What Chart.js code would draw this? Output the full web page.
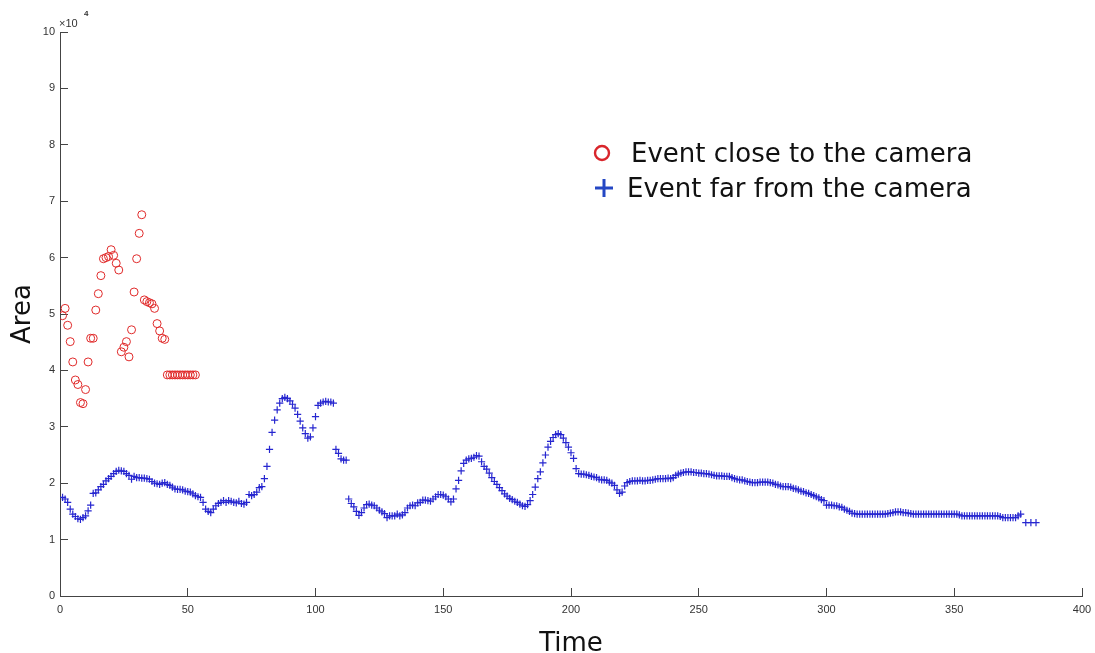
<!DOCTYPE html>
<html>
<head>
<meta charset="utf-8">
<script src="https://cdn.jsdelivr.net/npm/chart.js@4/dist/chart.umd.min.js"></script>
<style>
    html, body { margin: 0; padding: 0; background: #fff; }
    #wrap { width: 1095px; height: 653px; }
</style>
</head>
<body>
<div id="wrap"><canvas id="chart"></canvas></div>
<script>
// Area values are in units of 10^4 (the axis carries the "x10^4" factor).
// Both series are sampled once per time step, starting at time 1.
const timeStart = 1;

const closeLabel = "Event close to the camera";
const closeArea = [
    4.97, 5.10, 4.80, 4.51, 4.15, 3.83, 3.75, 3.43, 3.41, 3.66,
    4.15, 4.57, 4.57, 5.07, 5.36, 5.68, 5.98, 6.00, 6.02, 6.14,
    6.04, 5.90, 5.78, 4.33, 4.41, 4.51, 4.24, 4.72, 5.39, 5.98,
    6.43, 6.76, 5.25, 5.22, 5.20, 5.18, 5.10, 4.83, 4.70, 4.57,
    4.55, 3.92, 3.92, 3.92, 3.92, 3.92, 3.92, 3.92, 3.92, 3.92,
    3.92, 3.92, 3.92,
];

const farLabel = "Event far from the camera";
// null = no sample at that step
const farArea = [
    1.75, 1.72, 1.66, 1.54, 1.45, 1.41, 1.37, 1.36, 1.39, 1.42,
    1.51, 1.61, 1.82, 1.83, 1.88, 1.94, 1.98, 2.04, 2.08, 2.12,
    2.17, 2.21, 2.23, 2.22, 2.21, 2.17, 2.14, 2.07, 2.12, 2.10,
    2.10, 2.09, 2.09, 2.08, 2.07, 2.03, 2.00, 1.99, 1.98, 2.00,
    2.01, 1.98, 1.96, 1.93, 1.90, 1.89, 1.89, 1.88, 1.86, 1.85,
    1.84, 1.81, 1.78, 1.76, 1.75, 1.66, 1.54, 1.50, 1.48, 1.54,
    1.60, 1.64, 1.66, 1.69, 1.66, 1.69, 1.68, 1.66, 1.65, 1.68,
    1.64, 1.63, 1.66, 1.80, 1.78, 1.80, 1.84, 1.92, 1.94, 2.08,
    2.30, 2.60, 2.90, 3.12, 3.30, 3.42, 3.50, 3.52, 3.50, 3.46,
    3.40, 3.33, 3.22, 3.10, 2.98, 2.88, 2.80, 2.82, 2.98, 3.18,
    3.38, 3.42, 3.44, 3.45, 3.44, 3.44, 3.42, 2.60, 2.53, 2.43,
    2.41, 2.41, 1.72, 1.64, 1.58, 1.50, 1.43, 1.48, 1.56, 1.62,
    1.63, 1.61, 1.60, 1.56, 1.52, 1.49, 1.46, 1.39, 1.42, 1.42,
    1.42, 1.45, 1.42, 1.44, 1.48, 1.56, 1.60, 1.61, 1.60, 1.65,
    1.66, 1.70, 1.70, 1.69, 1.68, 1.72, 1.76, 1.80, 1.80, 1.79,
    1.76, 1.72, 1.67, 1.72, 1.90, 2.05, 2.22, 2.35, 2.41, 2.43,
    2.44, 2.46, 2.49, 2.48, 2.38, 2.30, 2.25, 2.18, 2.10, 2.03,
    1.98, 1.92, 1.87, 1.81, 1.77, 1.73, 1.71, 1.68, 1.66, 1.63,
    1.60, 1.59, 1.62, 1.69, 1.80, 1.93, 2.08, 2.20, 2.36, 2.50,
    2.64, 2.74, 2.81, 2.86, 2.88, 2.86, 2.80, 2.72, 2.64, 2.54,
    2.44, 2.26, 2.17, 2.16, 2.16, 2.15, 2.14, 2.12, 2.11, 2.10,
    2.07, 2.06, 2.06, 2.05, 2.02, 2.00, 1.96, 1.88, 1.82, 1.84,
    1.95, 2.01, 2.03, 2.04, 2.04, 2.04, 2.05, 2.04, 2.04, 2.05,
    2.05, 2.06, 2.07, 2.08, 2.08, 2.08, 2.08, 2.09, 2.08, 2.10,
    2.14, 2.16, 2.18, 2.19, 2.20, 2.20, 2.20, 2.19, 2.19, 2.18,
    2.18, 2.17, 2.17, 2.16, 2.15, 2.14, 2.13, 2.13, 2.13, 2.12,
    2.12, 2.12, 2.10, 2.08, 2.07, 2.06, 2.06, 2.04, 2.03, 2.02,
    2.01, 2.01, 2.01, 2.02, 2.02, 2.02, 2.02, 2.01, 2.00, 1.98,
    1.97, 1.95, 1.94, 1.94, 1.94, 1.93, 1.91, 1.90, 1.88, 1.86,
    1.85, 1.83, 1.82, 1.80, 1.78, 1.76, 1.74, 1.71, 1.69, 1.61,
    1.61, 1.61, 1.60, 1.60, 1.58, 1.57, 1.54, 1.52, 1.50, 1.47,
    1.46, 1.45, 1.45, 1.45, 1.45, 1.45, 1.45, 1.45, 1.45, 1.45,
    1.45, 1.45, 1.45, 1.46, 1.47, 1.48, 1.49, 1.49, 1.49, 1.48,
    1.48, 1.47, 1.46, 1.45, 1.45, 1.45, 1.45, 1.45, 1.45, 1.45,
    1.45, 1.45, 1.45, 1.45, 1.45, 1.45, 1.45, 1.45, 1.45, 1.45,
    1.45, 1.44, 1.42, 1.42, 1.42, 1.42, 1.42, 1.42, 1.42, 1.42,
    1.42, 1.42, 1.42, 1.42, 1.42, 1.42, 1.42, 1.41, 1.39, 1.39,
    1.39, 1.39, 1.39, 1.39, 1.42, 1.45, null, 1.30, null, 1.30,
    null, 1.30,
];

const xTicks = [0, 50, 100, 150, 200, 250, 300, 350, 400];
const yTicks = [0, 1, 2, 3, 4, 5, 6, 7, 8, 9, 10];
const xTitle = "Time";
const yTitle = "Area";
const yFactor = "\u00d710";
const yFactorExp = "4";

const axisColor = "#444";
const tickFont = { family: "'Liberation Sans', Arial, sans-serif", size: 11 };

function toPoints(values) {
    return values.map((v, i) => ({ x: timeStart + i, y: v }));
}

// Legend drawn inside the plot, in the upper right, with large markers.
const insideLegend = {
    id: "insideLegend",
    afterDraw(chart) {
        const ctx = chart.ctx;
        const sets = chart.data.datasets;
        ctx.save();
        ctx.font = "26px 'DejaVu Sans', sans-serif";
        ctx.fillStyle = "#111";
        ctx.textBaseline = "alphabetic";

        ctx.strokeStyle = "#d9262c";
        ctx.lineWidth = 2.4;
        ctx.beginPath();
        ctx.arc(602, 153, 7, 0, Math.PI * 2);
        ctx.stroke();
        ctx.fillText(sets[0].label, 631, 162);

        ctx.strokeStyle = "#2447c4";
        ctx.lineWidth = 3;
        ctx.beginPath();
        ctx.moveTo(595, 188);
        ctx.lineTo(613, 188);
        ctx.moveTo(604, 179);
        ctx.lineTo(604, 197);
        ctx.stroke();
        ctx.fillText(sets[1].label, 627, 197);
        ctx.restore();
    },
};

// "x10^4" factor above the y axis
const axisFactor = {
    id: "axisFactor",
    afterDraw(chart) {
        const ctx = chart.ctx;
        ctx.save();
        ctx.fillStyle = "#333";
        ctx.textBaseline = "alphabetic";
        ctx.font = "11px 'Liberation Sans', Arial, sans-serif";
        ctx.fillText(yFactor, 59, 27);
        ctx.font = "bold 8px 'Liberation Sans', Arial, sans-serif";
        ctx.fillText(yFactorExp, 84, 16);
        ctx.restore();
    },
};

new Chart(document.getElementById("chart"), {
    type: "scatter",
    data: {
        datasets: [
            {
                label: closeLabel,
                data: toPoints(closeArea),
                pointStyle: "circle",
                pointRadius: 4,
                pointBorderWidth: 1,
                borderColor: "#e02a2a",
                backgroundColor: "rgba(0,0,0,0)",
            },
            {
                label: farLabel,
                data: toPoints(farArea),
                pointStyle: "cross",
                pointRadius: 3.6,
                pointBorderWidth: 1.2,
                borderColor: "#2626d0",
                backgroundColor: "#2626d0",
            },
        ],
    },
    plugins: [insideLegend, axisFactor],
    options: {
        responsive: true,
        maintainAspectRatio: false,
        animation: false,
        layout: { padding: { left: 0, right: 13, top: 32, bottom: 0 } },
        plugins: {
            legend: { display: false },
            tooltip: { enabled: false },
        },
        scales: {
            x: {
                type: "linear",
                min: 0,
                max: 400,
                afterBuildTicks: (scale) => {
                    scale.ticks = xTicks.map((v) => ({ value: v }));
                },
                afterFit: (scale) => {
                    scale.height = 57;
                    // labels' tick padding would otherwise shrink the plot width
                    scale.paddingLeft = 0;
                    scale.paddingRight = 0;
                },
                grid: {
                    drawOnChartArea: false,
                    color: axisColor,
                    tickLength: -8,
                },
                border: { color: axisColor, width: 1 },
                ticks: { color: "#333", font: tickFont, padding: 15, maxRotation: 0 },
                title: {
                    display: true,
                    text: xTitle,
                    color: "#111",
                    font: { family: "'DejaVu Sans', sans-serif", size: 26, lineHeight: 0.69 },
                    padding: { top: 0, bottom: 0 },
                },
            },
            y: {
                type: "linear",
                min: 0,
                max: 10,
                afterBuildTicks: (scale) => {
                    scale.ticks = yTicks.map((v) => ({ value: v }));
                },
                afterFit: (scale) => {
                    scale.width = 60;
                },
                grid: {
                    drawOnChartArea: false,
                    color: axisColor,
                    tickLength: -8,
                },
                border: { color: axisColor, width: 1 },
                ticks: { color: "#333", font: tickFont, padding: 13 },
                title: {
                    display: true,
                    text: yTitle,
                    color: "#111",
                    font: { family: "'DejaVu Sans', sans-serif", size: 26, lineHeight: 1.2 },
                    padding: { top: 8, bottom: 0 },
                },
            },
        },
    },
});
</script>
</body>
</html>
